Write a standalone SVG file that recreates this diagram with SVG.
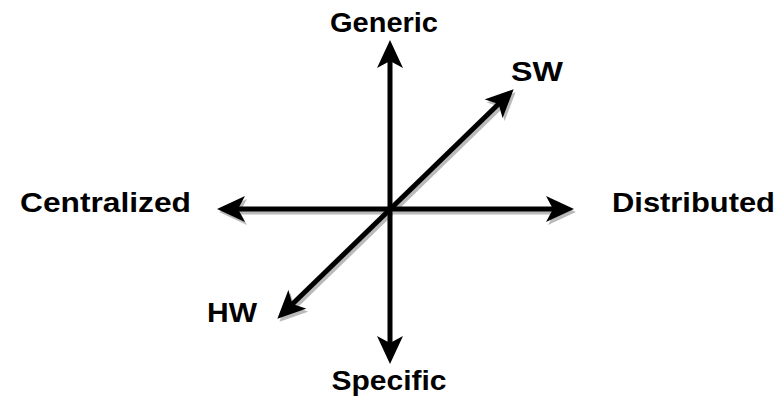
<svg xmlns="http://www.w3.org/2000/svg" width="780" height="397" viewBox="0 0 780 397">
<style>
.lbl{font-family:"Liberation Sans",Arial,sans-serif;font-weight:bold;font-size:27px;fill:#000}
.ax{stroke:#000;stroke-width:5;fill:none;marker-start:url(#ah);marker-end:url(#ah)}
.sh{stroke:#aaa;stroke-width:5;fill:none;marker-start:url(#ahs);marker-end:url(#ahs)}
</style>
<defs>
<marker id="ah" viewBox="0 0 28 26" refX="8" refY="13" markerWidth="28" markerHeight="26" markerUnits="userSpaceOnUse" orient="auto-start-reverse">
<path d="M0,0 L28,13 L0,26 L7,13 Z" fill="#000"/>
</marker>
<marker id="ahs" viewBox="0 0 28 26" refX="8" refY="13" markerWidth="28" markerHeight="26" markerUnits="userSpaceOnUse" orient="auto-start-reverse">
<path d="M0,0 L28,13 L0,26 L7,13 Z" fill="#aaa"/>
</marker>
</defs>
<g id="connectors">
<g id="shadows" transform="translate(2,3)" opacity="0.8">
<line class="sh" x1="237" y1="209" x2="554" y2="209"/>
<line class="sh" x1="291.7" y1="304.8" x2="499.3" y2="103.2"/>
</g>
<line id="axis-vertical" class="ax" x1="390" y1="60" x2="390" y2="344"/>
<line id="axis-horizontal" class="ax" x1="237" y1="209" x2="554" y2="209"/>
<line id="axis-diagonal" class="ax" x1="291.7" y1="304.8" x2="499.3" y2="103.2"/>
</g>
<g id="generic"><text class="lbl" x="384" y="32" text-anchor="middle" textLength="108" lengthAdjust="spacingAndGlyphs">Generic</text></g>
<g id="specific"><text class="lbl" x="389" y="390" text-anchor="middle" textLength="115" lengthAdjust="spacingAndGlyphs">Specific</text></g>
<g id="centralized"><text class="lbl" x="20" y="212" textLength="171" lengthAdjust="spacingAndGlyphs">Centralized</text></g>
<g id="distributed"><text class="lbl" x="612" y="212" textLength="163" lengthAdjust="spacingAndGlyphs">Distributed</text></g>
<g id="sw"><text class="lbl" x="511" y="81" textLength="52" lengthAdjust="spacingAndGlyphs">SW</text></g>
<g id="hw"><text class="lbl" x="207" y="322" textLength="50" lengthAdjust="spacingAndGlyphs">HW</text></g>
</svg>
